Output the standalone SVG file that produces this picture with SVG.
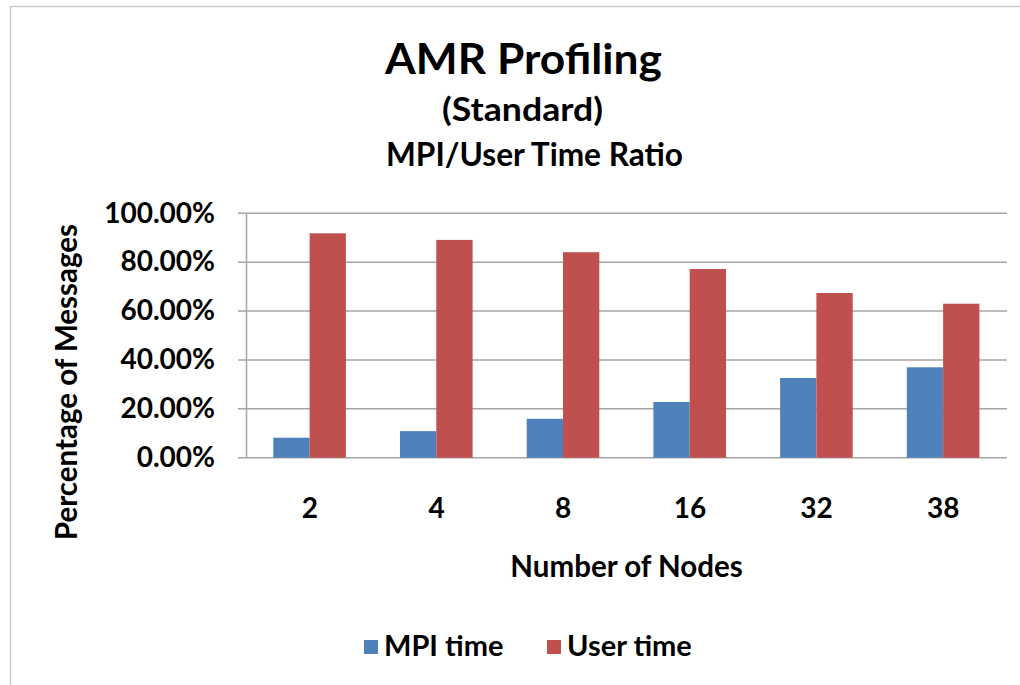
<svg xmlns="http://www.w3.org/2000/svg" width="1020" height="685" viewBox="0 0 1020 685">
  <style>
    text { font-family: "Lato", "Carlito", "Liberation Sans", sans-serif; font-weight: bold; fill: #000; }
    .title { font-size: 42px; }
    .sub { font-size: 32px; }
    .tick { font-size: 28px; }
    .axis-title { font-size: 29.5px; }
    .legend { font-size: 29px; }
    .grid { stroke: #a6a6a6; stroke-width: 1.5; fill: none; }
    .mpi { fill: #4f81bd; }
    .user { fill: #c0504d; }
  </style>

  <!-- chart area -->
  <rect id="chart-area" x="10.5" y="6.5" width="1030" height="700" fill="#fff" stroke="#c6c6c6" stroke-width="1.3"/>

  <!-- titles -->
  <g id="titles">
    <text class="title" x="385" y="74" textLength="277" lengthAdjust="spacingAndGlyphs">AMR Profiling</text>
    <text class="sub" x="442" y="121" textLength="161" lengthAdjust="spacingAndGlyphs">(Standard)</text>
    <text class="sub" x="386" y="166" textLength="297" lengthAdjust="spacingAndGlyphs">MPI/User Time Ratio</text>
  </g>

  <!-- gridlines and axes -->
  <g id="grid">
    <path class="grid" d="M246.5 213.3H1007M246.5 262.2H1007M246.5 311.1H1007M246.5 359.9H1007M246.5 408.8H1007M238 457.7H1007"/>
    <path class="grid" d="M246.5 213.3V457.7M238 213.3H246.5M238 262.2H246.5M238 311.1H246.5M238 359.9H246.5M238 408.8H246.5"/>
  </g>

  <!-- value axis labels -->
  <g id="y-axis" class="tick" text-anchor="end">
    <text x="215" y="222.5">100.00%</text>
    <text x="215" y="271.4">80.00%</text>
    <text x="215" y="320.3">60.00%</text>
    <text x="215" y="369.1">40.00%</text>
    <text x="215" y="418">20.00%</text>
    <text x="215" y="466.9">0.00%</text>
  </g>
  <text id="y-title" class="axis-title" text-anchor="middle" transform="translate(77 382) rotate(-90)">Percentage of Messages</text>

  <!-- category axis labels -->
  <g id="x-axis" class="tick" text-anchor="middle">
    <text x="309.8" y="518">2</text>
    <text x="436.5" y="518">4</text>
    <text x="563.2" y="518">8</text>
    <text x="689.9" y="518">16</text>
    <text x="816.6" y="518">32</text>
    <text x="943.3" y="518">38</text>
  </g>
  <text id="x-title" class="axis-title" text-anchor="middle" x="626.5" y="577">Number of Nodes</text>

  <!-- MPI time series -->
  <g id="series-mpi" class="mpi">
    <rect x="273.3" y="437.7" width="36.3" height="20"/>
    <rect x="400" y="431.1" width="36.3" height="26.6"/>
    <rect x="526.7" y="418.8" width="36.3" height="38.9"/>
    <rect x="653.4" y="402" width="36.3" height="55.7"/>
    <rect x="780.1" y="378" width="36.3" height="79.7"/>
    <rect x="906.8" y="367.3" width="36.3" height="90.4"/>
  </g>

  <!-- User time series -->
  <g id="series-user" class="user">
    <rect x="309.6" y="233.3" width="36.3" height="224.4"/>
    <rect x="436.3" y="239.9" width="36.3" height="217.8"/>
    <rect x="563" y="252.2" width="36.3" height="205.5"/>
    <rect x="689.7" y="269" width="36.3" height="188.7"/>
    <rect x="816.4" y="293" width="36.3" height="164.7"/>
    <rect x="943.1" y="303.7" width="36.3" height="154"/>
  </g>

  <!-- legend -->
  <g id="legend" class="legend">
    <rect class="mpi" x="364" y="640" width="14" height="14"/>
    <text x="384" y="656">MPI time</text>
    <rect class="user" x="547" y="640" width="14" height="14"/>
    <text x="567" y="656">User time</text>
  </g>
</svg>
